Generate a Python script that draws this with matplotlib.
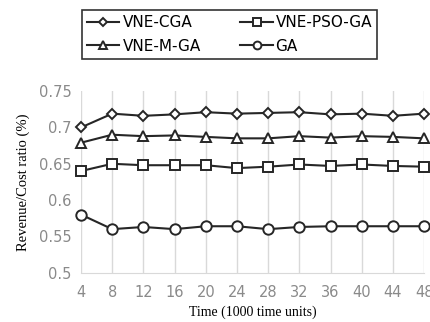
import matplotlib
matplotlib.use("Agg")
import matplotlib.pyplot as plt

time = [4, 8, 12, 16, 20, 24, 28, 32, 36, 40, 44, 48]
vne_cga = [0.700, 0.719, 0.716, 0.718, 0.721, 0.719, 0.720, 0.721, 0.718, 0.719, 0.716, 0.719]
vne_pso_ga = [0.640, 0.650, 0.648, 0.648, 0.648, 0.644, 0.646, 0.649, 0.647, 0.649, 0.647, 0.646]
vne_m_ga = [0.679, 0.690, 0.688, 0.689, 0.687, 0.685, 0.685, 0.688, 0.686, 0.688, 0.687, 0.685]
ga = [0.580, 0.560, 0.563, 0.560, 0.564, 0.564, 0.560, 0.563, 0.564, 0.564, 0.564, 0.564]

fig = plt.figure(figsize=(4.31, 3.22), dpi=100)
ax = fig.add_axes([0.188, 0.153, 0.796, 0.564])

lc = "#262626"
style = dict(color=lc, lw=1.5, mfc="white", mec=lc, mew=1.4, clip_on=False, zorder=3)
l1, = ax.plot(time, vne_cga, marker="D", ms=5.5, label="VNE-CGA", **style)
l2, = ax.plot(time, vne_pso_ga, marker="s", ms=7.5, label="VNE-PSO-GA", **style)
l3, = ax.plot(time, vne_m_ga, marker="^", ms=7.5, label="VNE-M-GA", **style)
l4, = ax.plot(time, ga, marker="o", ms=7.5, label="GA", **style)

ax.set_xlim(4, 48)
ax.set_ylim(0.5, 0.75)
ax.set_xticks(time)
ax.set_yticks([0.5, 0.55, 0.6, 0.65, 0.7, 0.75])
ax.set_yticklabels(["0.5", "0.55", "0.6", "0.65", "0.7", "0.75"])
ax.tick_params(length=0, labelsize=10.5, labelcolor="#8a8a8a")
ax.tick_params(axis="x", pad=9)
ax.tick_params(axis="y", pad=7)

ax.grid(axis="x", color="#d9d9d9", lw=1)
ax.set_axisbelow(True)
for s in ["top", "right", "left"]:
    ax.spines[s].set_visible(False)
ax.spines["bottom"].set_color("#d9d9d9")

ax.set_xlabel("Time (1000 time units)", family="Liberation Serif", fontsize=10, labelpad=4)
ax.set_ylabel("Revenue/Cost ratio (%)", family="Liberation Serif", fontsize=10.5, labelpad=6)

leg = fig.legend([l1, l3, l2, l4], ["VNE-CGA", "VNE-M-GA", "VNE-PSO-GA", "GA"],
                 loc="upper left", bbox_to_anchor=(82 / 431, 1 - 10 / 322), ncol=2,
                 frameon=True, fancybox=False, edgecolor="black", fontsize=11,
                 handlelength=2.1, columnspacing=2.6, handletextpad=0.2,
                 borderpad=0.35, labelspacing=0.55, borderaxespad=0, markerscale=0.75)
leg.get_frame().set_linewidth(1.2)

fig.savefig("out.png", dpi=100)
